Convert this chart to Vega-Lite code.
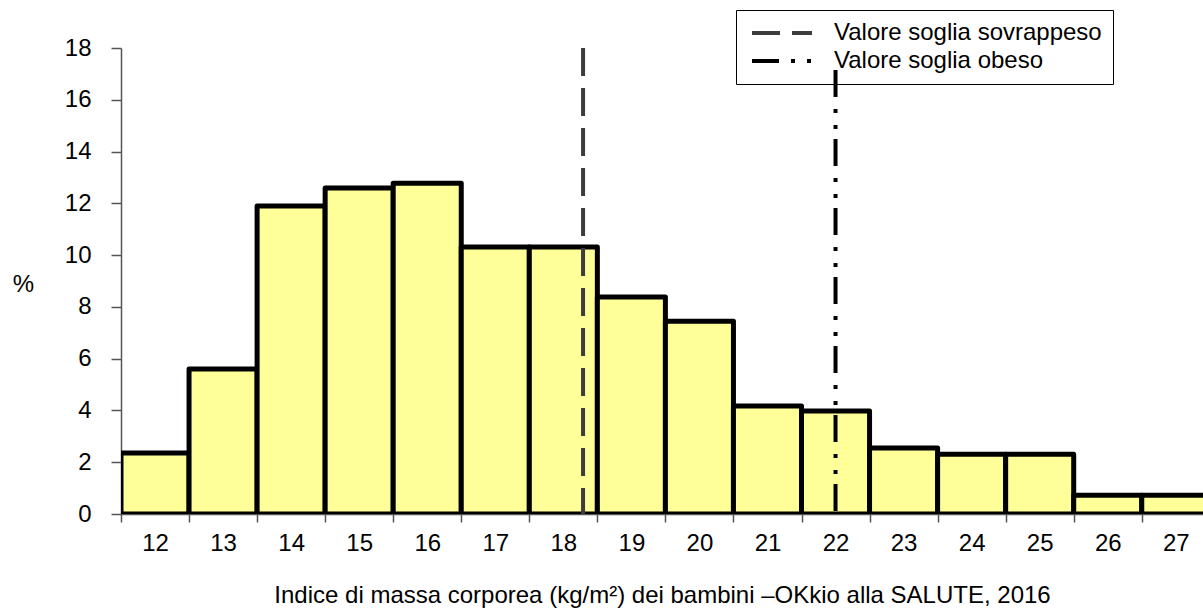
{
  "$schema": "https://vega.github.io/schema/vega-lite/v6.json",
  "width": 1082,
  "height": 466,
  "autosize": {"type": "none"},
  "padding": {"left": 121, "top": 48, "right": 0, "bottom": 96},
  "background": "white",
  "config": {
    "view": {"stroke": null},
    "font": "Liberation Sans",
    "axis": {"labelFont": "Liberation Sans", "titleFont": "Liberation Sans", "labelColor": "#000", "titleColor": "#000", "grid": false}
  },
  "layer": [
    {
      "data": {
        "values": [
          {"classe": 12, "da": 11.5, "a": 12.5, "pct": 2.36},
          {"classe": 13, "da": 12.5, "a": 13.5, "pct": 5.6},
          {"classe": 14, "da": 13.5, "a": 14.5, "pct": 11.9},
          {"classe": 15, "da": 14.5, "a": 15.5, "pct": 12.59},
          {"classe": 16, "da": 15.5, "a": 16.5, "pct": 12.78},
          {"classe": 17, "da": 16.5, "a": 17.5, "pct": 10.31},
          {"classe": 18, "da": 17.5, "a": 18.5, "pct": 10.31},
          {"classe": 19, "da": 18.5, "a": 19.5, "pct": 8.38},
          {"classe": 20, "da": 19.5, "a": 20.5, "pct": 7.45},
          {"classe": 21, "da": 20.5, "a": 21.5, "pct": 4.17},
          {"classe": 22, "da": 21.5, "a": 22.5, "pct": 3.98},
          {"classe": 23, "da": 22.5, "a": 23.5, "pct": 2.55},
          {"classe": 24, "da": 23.5, "a": 24.5, "pct": 2.31},
          {"classe": 25, "da": 24.5, "a": 25.5, "pct": 2.31},
          {"classe": 26, "da": 25.5, "a": 26.5, "pct": 0.72},
          {"classe": 27, "da": 26.5, "a": 27.5, "pct": 0.72}
        ]
      },
      "mark": {"type": "rect", "fill": "#FFFF99", "stroke": "#000000", "strokeWidth": 5, "strokeJoin": "round", "clip": true},
      "encoding": {
        "x": {
          "field": "da", "type": "quantitative",
          "scale": {"domain": [11.5, 27.4], "nice": false, "zero": false},
          "axis": {
            "values": [12, 13, 14, 15, 16, 17, 18, 19, 20, 21, 22, 23, 24, 25, 26, 27],
            "format": "d",
            "tickOffset": -34,
            "labelOffset": 34,
            "tickSize": 8,
            "tickColor": "#555",
            "tickWidth": 1.5,
            "domainColor": "#555",
            "domainWidth": 1.5,
            "labelFontSize": 24,
            "labelPadding": 9,
            "labelFlush": false,
            "labelOverlap": false,
            "title": "Indice di massa corporea (kg/m²) dei bambini –OKkio alla SALUTE, 2016",
            "titleFontSize": 24,
            "titleFontWeight": "normal",
            "titlePadding": 28
          }
        },
        "x2": {"field": "a"},
        "y": {
          "field": "pct", "type": "quantitative",
          "scale": {"domain": [0, 18], "nice": false},
          "axis": {
            "values": [0, 2, 4, 6, 8, 10, 12, 14, 16, 18],
            "tickSize": 10,
            "tickColor": "#555",
            "tickWidth": 1.5,
            "domainColor": "#555",
            "domainWidth": 1.5,
            "labelFontSize": 24,
            "labelPadding": 20,
            "title": "%",
            "titleFontSize": 24,
            "titleFontWeight": "normal",
            "titleAngle": 0,
            "titleX": -98,
            "titleY": 236,
            "titleAlign": "center",
            "titleBaseline": "middle"
          }
        },
        "y2": {"datum": 0}
      }
    },
    {
      "data": {
        "values": [
          {"soglia": "Valore soglia sovrappeso", "bmi": 18.29, "max": 18},
          {"soglia": "Valore soglia obeso", "bmi": 22.0, "max": 17.15}
        ]
      },
      "mark": {"type": "rule", "strokeWidth": 4},
      "encoding": {
        "x": {"field": "bmi", "type": "quantitative"},
        "y": {"field": "max", "type": "quantitative"},
        "y2": {"datum": 0},
        "color": {
          "field": "soglia", "type": "nominal",
          "scale": {"domain": ["Valore soglia sovrappeso", "Valore soglia obeso"], "range": ["#3c3c3c", "#000000"]},
          "legend": {
            "title": null,
            "orient": "none",
            "legendX": 615,
            "legendY": -38,
            "strokeColor": "#000",
            "fillColor": null,
            "padding": 11,
            "symbolType": "M-0.7,0H5.3",
            "symbolSize": 400,
            "symbolStrokeWidth": 4,
            "labelFontSize": 24,
            "labelFont": "Liberation Sans",
            "labelColor": "#000",
            "labelOffset": 63,
            "labelLimit": 400,
            "rowPadding": 4
          }
        },
        "strokeDash": {
          "field": "soglia", "type": "nominal",
          "scale": {"domain": ["Valore soglia sovrappeso", "Valore soglia obeso"], "range": [[28, 12], [27, 12, 4, 12, 4, 10]]}
        }
      }
    }
  ]
}
